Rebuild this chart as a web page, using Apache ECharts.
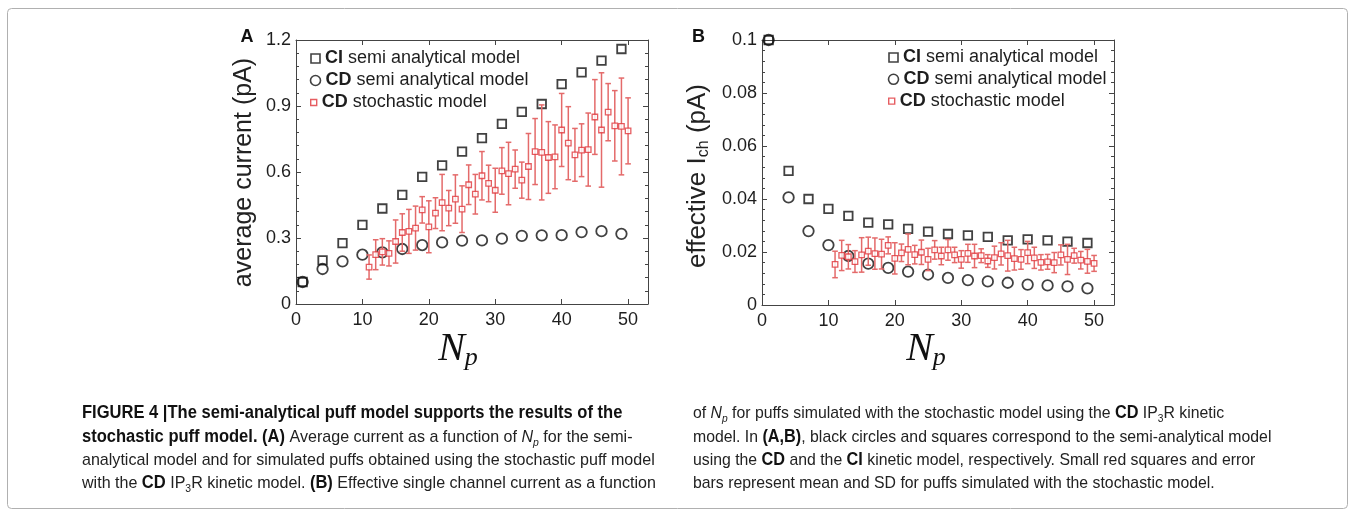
<!DOCTYPE html>
<html><head><meta charset="utf-8">
<script src="https://cdn.jsdelivr.net/npm/echarts@6/dist/echarts.min.js"></script>
<style>html,body{margin:0;padding:0;background:#fff}#c{width:1354px;height:517px}</style>
</head><body><div id="c"></div>
<script>
// ---------------- data ----------------
const N_semi = [1, 4, 7, 10, 13, 16, 19, 22, 25, 28, 31, 34, 37, 40, 43, 46, 49];
const A_CI = [0.100, 0.198, 0.277, 0.360, 0.434, 0.496, 0.578, 0.630, 0.693, 0.754, 0.819, 0.873, 0.909, 0.999, 1.053, 1.106, 1.159];
const A_CD = [0.100, 0.159, 0.194, 0.224, 0.235, 0.250, 0.268, 0.280, 0.288, 0.289, 0.297, 0.310, 0.312, 0.313, 0.327, 0.331, 0.319];
const B_CI = [0.100, 0.0506, 0.0400, 0.0363, 0.0336, 0.0311, 0.0304, 0.0287, 0.0277, 0.0268, 0.0263, 0.0257, 0.0244, 0.0248, 0.0244, 0.0239, 0.0234];
const B_CD = [0.100, 0.0406, 0.0279, 0.0226, 0.0185, 0.0156, 0.0140, 0.0126, 0.0115, 0.0102, 0.0094, 0.0089, 0.0084, 0.0077, 0.0074, 0.0070, 0.0063];

const N_sto = [11, 12, 13, 14, 15, 16, 17, 18, 19, 20, 21, 22, 23, 24, 25, 26, 27, 28, 29, 30,
               31, 32, 33, 34, 35, 36, 37, 38, 39, 40, 41, 42, 43, 44, 45, 46, 47, 48, 49, 50];
const A_sto_mean = [0.168, 0.224, 0.237, 0.230, 0.284, 0.325, 0.330, 0.345, 0.428, 0.351,
                    0.413, 0.461, 0.436, 0.477, 0.431, 0.542, 0.499, 0.583, 0.548, 0.517,
                    0.605, 0.593, 0.613, 0.563, 0.625, 0.693, 0.689, 0.666, 0.669, 0.791,
                    0.731, 0.678, 0.699, 0.702, 0.850, 0.791, 0.872, 0.810, 0.807, 0.787];
const A_sto_sd = [0.055, 0.068, 0.060, 0.057, 0.098, 0.085, 0.100, 0.100, 0.060, 0.118,
                  0.070, 0.128, 0.080, 0.110, 0.106, 0.090, 0.090, 0.110, 0.083, 0.100,
                  0.106, 0.142, 0.087, 0.082, 0.150, 0.150, 0.216, 0.163, 0.145, 0.166,
                  0.166, 0.120, 0.120, 0.166, 0.170, 0.260, 0.130, 0.160, 0.220, 0.150];
const B_sto_mean = [0.0153, 0.0187, 0.0182, 0.0164, 0.0189, 0.0203, 0.0194, 0.0192, 0.0225, 0.0176,
                    0.0197, 0.0210, 0.0190, 0.0199, 0.0172, 0.0208, 0.0185, 0.0208, 0.0189, 0.0172,
                    0.0195, 0.0185, 0.0186, 0.0166, 0.0179, 0.0193, 0.0186, 0.0175, 0.0172, 0.0198,
                    0.0178, 0.0161, 0.0163, 0.0160, 0.0189, 0.0172, 0.0186, 0.0169, 0.0165, 0.0157];
const B_sto_sd = [0.0050, 0.0057, 0.0046, 0.0041, 0.0065, 0.0053, 0.0059, 0.0056, 0.0032, 0.0059,
                  0.0033, 0.0058, 0.0035, 0.0046, 0.0042, 0.0035, 0.0033, 0.0039, 0.0029, 0.0033,
                  0.0034, 0.0044, 0.0026, 0.0024, 0.0043, 0.0042, 0.0058, 0.0043, 0.0037, 0.0042,
                  0.0040, 0.0029, 0.0028, 0.0038, 0.0038, 0.0057, 0.0028, 0.0033, 0.0045, 0.0030];

const xTickLabels = ['0', '10', '20', '30', '40', '50'];
const A_yTickLabels = ['0', '0.3', '0.6', '0.9', '1.2'];
const B_yTickLabels = ['0', '0.02', '0.04', '0.06', '0.08', '0.1'];
const legendNames = ['CI semi analytical model', 'CD semi analytical model', 'CD stochastic model'];

// ---------------- styles ----------------
const FONT = 'Liberation Sans, Arial, Helvetica, sans-serif';
const AX = '#444';
const TXT = '#1e1e1e';
const RED = '#e0343a';
const REDBAR = '#e46a6a';

const zip = (xs, ys) => xs.map((x, i) => [x, ys[i]]);
const errData = (xs, m, s) => xs.map((x, i) => [x, m[i] - s[i], m[i] + s[i]]);

function xAxes(gi) {
  const base = {
    gridIndex: gi, type: 'value', min: 0, max: 53, interval: 10,
    axisLine: { show: true, onZero: false, lineStyle: { color: AX, width: 1 } },
    axisTick: { show: true, inside: true, length: 5, lineStyle: { color: AX } },
    splitLine: { show: false }
  };
  return [
    Object.assign({}, base, { position: 'bottom',
      axisLabel: { fontSize: 18, color: TXT, fontFamily: FONT, margin: 7,
        formatter: v => { const i = xTickLabels.indexOf(String(Math.round(v))); return (Math.abs(v - Math.round(v)) < 1e-9 && i >= 0) ? xTickLabels[i] : ''; } } }),
    Object.assign({}, base, { position: 'top', axisLabel: { show: false } })
  ];
}
function yAxes(gi, max, interval, labels) {
  const base = {
    gridIndex: gi, type: 'value', min: 0, max: max, interval: interval,
    axisLine: { show: true, onZero: false, lineStyle: { color: AX, width: 1 } },
    axisTick: { show: true, inside: true, length: 5, lineStyle: { color: AX } },
    minorTick: { show: true, splitNumber: 5, length: 3, lineStyle: { color: AX } },
    splitLine: { show: false }
  };
  return [
    Object.assign({}, base, { position: 'left',
      axisLabel: { fontSize: 18, color: TXT, fontFamily: FONT, margin: 5,
        formatter: v => labels[Math.round(v / interval)] } }),
    Object.assign({}, base, { position: 'right', axisLabel: { show: false } })
  ];
}

function panelSeries(xi, yi, ci, cd, stoM, stoS) {
  return [
    { name: legendNames[0], type: 'scatter', xAxisIndex: xi, yAxisIndex: yi, symbol: 'rect', symbolSize: 8.5,
      itemStyle: { color: 'none', borderColor: '#111', borderWidth: 1.8 }, data: zip(N_semi, ci), z: 3 },
    { name: legendNames[1], type: 'scatter', xAxisIndex: xi, yAxisIndex: yi, symbol: 'circle', symbolSize: 10.5,
      itemStyle: { color: 'none', borderColor: '#111', borderWidth: 1.8 }, data: zip(N_semi, cd), z: 3 },
    { name: 'err', type: 'custom', xAxisIndex: xi, yAxisIndex: yi, z: 4,
      renderItem: (params, api) => {
        const x = api.value(0);
        const lo = api.coord([x, api.value(1)]);
        const hi = api.coord([x, api.value(2)]);
        const w = 2.8;
        const st = { stroke: REDBAR, lineWidth: 1.5 };
        return { type: 'group', children: [
          { type: 'line', shape: { x1: lo[0], y1: lo[1], x2: hi[0], y2: hi[1] }, style: st },
          { type: 'line', shape: { x1: lo[0] - w, y1: lo[1], x2: lo[0] + w, y2: lo[1] }, style: st },
          { type: 'line', shape: { x1: hi[0] - w, y1: hi[1], x2: hi[0] + w, y2: hi[1] }, style: st }
        ] };
      },
      data: errData(N_sto, stoM, stoS) },
    { name: legendNames[2], type: 'scatter', xAxisIndex: xi, yAxisIndex: yi, symbol: 'rect', symbolSize: 5.5,
      itemStyle: { color: '#fff', borderColor: RED, borderWidth: 1.3 }, data: zip(N_sto, stoM), z: 5 }
  ];
}

function legendItem(name, left, cy, icon, size, itemStyle) {
  const sp = name.indexOf(' ');
  return {
    data: [{ name: name, icon: icon }], orient: 'vertical', left: left - size / 2, top: cy - 11,
    itemWidth: size, itemHeight: size, padding: 0, selectedMode: false,
    itemStyle: itemStyle,
    formatter: () => '{b|' + name.slice(0, sp) + '}' + name.slice(sp),
    textStyle: { fontSize: 18, color: TXT, fontFamily: FONT, lineHeight: 22,
      rich: { b: { fontWeight: 'bold', fontSize: 18, fontFamily: FONT, color: TXT, lineHeight: 22 } } }
  };
}
const sqStyle = { color: 'none', borderColor: '#111', borderWidth: 1.6 };
const ciStyle = { color: 'none', borderColor: '#111', borderWidth: 1.6 };
const rdStyle = { color: '#fff', borderColor: RED, borderWidth: 1.4 };
function legendsAt(x, y0, dy) {
  return [
    legendItem(legendNames[0], x, y0, 'rect', 9, sqStyle),
    legendItem(legendNames[1], x, y0 + dy, 'circle', 10, ciStyle),
    legendItem(legendNames[2], x, y0 + 2 * dy, 'rect', 6, rdStyle)
  ];
}

// caption (rich text lines)
const capRich = {
  b: { fontWeight: 'bold', fontFamily: FONT, fontSize: 17.5, fill: '#111', lineHeight: 23 },
  i: { fontStyle: 'italic', fontFamily: FONT, fontSize: 17, fill: '#222', lineHeight: 23 },
  s: { fontStyle: 'italic', fontFamily: FONT, fontSize: 11, fill: '#222', lineHeight: 23, padding: [12, 0, 0, 0] },
  n: { fontFamily: FONT, fontSize: 11, fill: '#222', lineHeight: 23, padding: [12, 0, 0, 0] }
};
const capLeft = [
  '{b|FIGURE 4 |The semi-analytical puff model supports the results of the}',
  '{b|stochastic puff model. (A)} Average current as a function of {i|N}{s|p} for the semi-',
  'analytical model and for simulated puffs obtained using the stochastic puff model',
  'with the {b|CD} IP{n|3}R kinetic model. {b|(B)} Effective single channel current as a function'
];
const capRight = [
  'of {i|N}{s|p} for puffs simulated with the stochastic model using the {b|CD} IP{n|3}R kinetic',
  'model. In {b|(A,B)}, black circles and squares correspond to the semi-analytical model',
  'using the {b|CD} and the {b|CI} kinetic model, respectively. Small red squares and error',
  'bars represent mean and SD for puffs simulated with the stochastic model.'
];
const capY = [413, 437, 460, 483];
function capText(lines, x, sc) {
  return lines.map((t, i) => ({
    type: 'text', x: x, y: capY[i], scaleX: sc, silent: true,
    style: { text: t, rich: capRich, fontFamily: FONT, fontSize: 17, fill: '#222', lineHeight: 23,
      verticalAlign: 'middle', align: 'left' }
  }));
}

const npRich = {
  n: { fontFamily: 'Liberation Serif, DejaVu Serif, serif', fontStyle: 'italic', fontSize: 40, fill: '#111', lineHeight: 44 },
  p: { fontFamily: 'Liberation Serif, DejaVu Serif, serif', fontStyle: 'italic', fontSize: 26, fill: '#111', lineHeight: 44, padding: [18, 0, 0, 0] }
};

const chart = echarts.init(document.getElementById('c'), null, { renderer: 'canvas' });
chart.setOption({
  animation: false,
  backgroundColor: '#fff',
  grid: [
    { left: 296, top: 40, width: 352, height: 264 },
    { left: 762, top: 40, width: 352, height: 265 }
  ],
  xAxis: [].concat(xAxes(0), xAxes(1)),
  yAxis: [].concat(yAxes(0, 1.2, 0.3, A_yTickLabels), yAxes(1, 0.1, 0.02, B_yTickLabels)),
  legend: [].concat(legendsAt(313, 58.5, 22), legendsAt(891, 57.5, 21.8)),
  series: [].concat(
    panelSeries(0, 0, A_CI, A_CD, A_sto_mean, A_sto_sd),
    panelSeries(2, 2, B_CI, B_CD, B_sto_mean, B_sto_sd)
  ),
  graphic: [
    { type: 'rect', shape: { x: 7.5, y: 8.5, width: 1340, height: 500, r: 4 }, style: { fill: 'none', stroke: '#b0b0b0', lineWidth: 1 }, silent: true, z: -10 },
    { type: 'text', x: 247, y: 37.5, style: { text: 'A', font: 'bold 18px ' + FONT, fill: '#111', align: 'center', verticalAlign: 'middle' } },
    { type: 'text', x: 698.5, y: 37.5, style: { text: 'B', font: 'bold 18px ' + FONT, fill: '#111', align: 'center', verticalAlign: 'middle' } },
    { type: 'text', x: 244, y: 172.5, rotation: Math.PI / 2,
      style: { text: 'average current (pA)', fontFamily: FONT, fontSize: 25, fill: '#222', align: 'center', verticalAlign: 'middle' } },
    { type: 'text', x: 698, y: 176, rotation: Math.PI / 2,
      style: { text: 'effective I{sub|ch} (pA)', fontFamily: FONT, fontSize: 26, fill: '#222', align: 'center', verticalAlign: 'middle', lineHeight: 30,
        rich: { sub: { fontFamily: FONT, fontSize: 16, fill: '#222', lineHeight: 30, padding: [12, 0, 0, 0] } } } },
    { type: 'text', x: 458, y: 349, style: { text: '{n|N}{p|p}', rich: npRich, align: 'center', verticalAlign: 'middle' } },
    { type: 'text', x: 926, y: 349, style: { text: '{n|N}{p|p}', rich: npRich, align: 'center', verticalAlign: 'middle' } }
  ].concat(capText(capLeft, 82, 0.945), capText(capRight, 693, 0.93))
});
</script>
</body></html>
